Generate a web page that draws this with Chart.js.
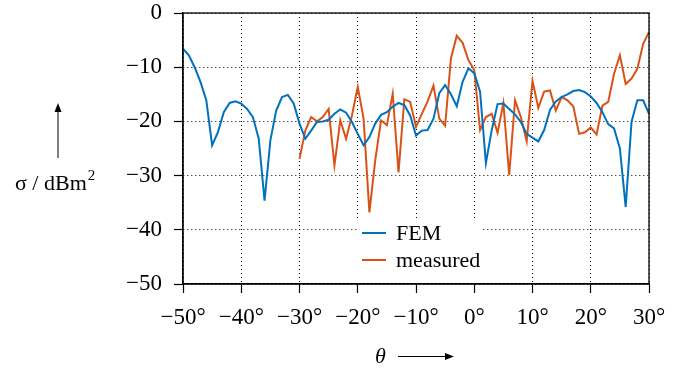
<!DOCTYPE html>
<html>
<head>
<meta charset="utf-8">
<script src="https://cdn.jsdelivr.net/npm/chart.js@4"></script>
<style>
  html, body { margin: 0; padding: 0; background: #fff; }
  #wrap { width: 675px; height: 368px; }
</style>
</head>
<body>
<div id="wrap"><canvas id="rcs"></canvas></div>
<script>
// angle (deg) and RCS (dBm^2)
const thetaFem = [
  -50, -49, -48, -47, -46, -45, -44, -43, -42, -41,
  -40, -39, -38, -37, -36, -35, -34, -33, -32, -31,
  -30, -29, -28, -27, -26, -25, -24, -23, -22, -21,
  -20, -19, -18, -17, -16, -15, -14, -13, -12, -11,
  -10, -9, -8, -7, -6, -5, -4, -3, -2, -1,
  0, 1, 2, 3, 4, 5, 6, 7, 8, 9,
  10, 11, 12, 13, 14, 15, 16, 17, 18, 19,
  20, 21, 22, 23, 24, 25, 26, 27, 28, 29, 30
];
const sigmaFem = [
  -6.6, -7.8, -10.0, -12.7, -16.1, -24.4, -22.0, -18.3, -16.6, -16.3,
  -16.7, -17.7, -19.2, -23.2, -34.6, -23.5, -18.0, -15.5, -15.1, -16.7,
  -20.4, -23.2, -21.7, -20.1, -20.0, -19.7, -18.6, -17.8, -18.4, -20.1,
  -22.3, -24.4, -22.9, -20.4, -18.8, -18.3, -17.3, -16.6, -17.0, -18.9,
  -22.6, -21.7, -21.6, -19.5, -14.8, -13.3, -15.0, -17.2, -12.7, -10.2,
  -11.1, -14.5, -27.7, -21.6, -16.8, -16.7, -17.7, -18.7, -20.1, -22.3,
  -23.0, -23.7, -21.6, -17.9, -16.3, -15.5, -15.0, -14.4, -14.2, -14.6,
  -15.4, -16.6, -18.3, -20.5, -21.3, -25.0, -35.8, -20.1, -16.1, -16.1, -18.6
];

const thetaMeas = [
  -30, -29, -28, -27, -26, -25, -24, -23, -22, -21,
  -20, -19, -18, -17, -16, -15, -14, -13, -12, -11,
  -10, -9, -8, -7, -6, -5, -4, -3, -2, -1,
  0, 1, 2, 3, 4, 5, 6, 7, 8, 9,
  10, 11, 12, 13, 14, 15, 16, 17, 18, 19,
  20, 21, 22, 23, 24, 25, 26, 27, 28, 29, 30
];
const sigmaMeas = [
  -26.9, -21.7, -19.2, -20.0, -19.2, -17.7, -28.1, -19.8, -23.2, -18.9,
  -13.6, -19.5, -36.8, -27.2, -19.8, -20.7, -14.9, -29.4, -15.9, -16.4,
  -21.0, -18.6, -16.3, -13.4, -19.5, -20.8, -8.4, -4.2, -5.5, -8.7,
  -10.5, -21.6, -19.2, -18.6, -22.1, -16.6, -29.9, -16.1, -19.2, -23.7,
  -12.5, -17.5, -14.5, -14.3, -18.0, -15.5, -16.1, -17.2, -22.3, -22.0,
  -21.1, -22.4, -17.1, -16.4, -11.2, -7.8, -13.1, -12.1, -10.3, -5.7, -3.5
];

const xTicks = [-50, -40, -30, -20, -10, 0, 10, 20, 30];
const yTicks = [-50, -40, -30, -20, -10, 0];

const FONT = '"Liberation Serif", "Times New Roman", serif';
const BLUE = '#0072bd';
const ORANGE = '#d95319';

function minus(v) {
    return v < 0 ? '\u2212' + Math.abs(v) : String(v);
}

function toPoints(xs, ys) {
    return xs.map((x, i) => ({ x: x, y: ys[i] }));
}

// frame, in-plot legend and the two axis titles with arrows
const decorations = {
    id: 'decorations',
    afterDraw(chart) {
        const ctx = chart.ctx;
        const a = chart.chartArea;
        ctx.save();

        // box round the plot
        ctx.strokeStyle = '#000';
        ctx.lineWidth = 1.3;
        ctx.strokeRect(a.left, a.top, a.right - a.left, a.bottom - a.top);

        // legend
        ctx.fillStyle = '#fff';
        ctx.fillRect(357, 219, 125, 64);
        ctx.font = '22px ' + FONT;
        ctx.textBaseline = 'middle';
        ctx.textAlign = 'left';
        chart.data.datasets.forEach((ds, i) => {
            const y = 233 + i * 27;
            ctx.strokeStyle = ds.borderColor;
            ctx.lineWidth = 2;
            ctx.beginPath();
            ctx.moveTo(362, y);
            ctx.lineTo(386, y);
            ctx.stroke();
            ctx.fillStyle = '#000';
            ctx.fillText(ds.label, 396, y + 1);
        });

        // y title: arrow up, then sigma / dBm^2
        ctx.strokeStyle = '#000';
        ctx.fillStyle = '#000';
        ctx.lineWidth = 1;
        ctx.beginPath();
        ctx.moveTo(58, 158);
        ctx.lineTo(58, 110);
        ctx.stroke();
        ctx.beginPath();
        ctx.moveTo(58, 103);
        ctx.lineTo(54.5, 112);
        ctx.lineTo(61.5, 112);
        ctx.closePath();
        ctx.fill();

        ctx.textBaseline = 'alphabetic';
        ctx.font = '22px ' + FONT;
        const main = '\u03c3 / dBm';
        ctx.fillText(main, 15, 190);
        const w = ctx.measureText(main).width;
        ctx.font = '15px ' + FONT;
        ctx.fillText('2', 15 + w + 1, 180);

        // x title: theta, then arrow right
        ctx.font = 'italic 22px ' + FONT;
        ctx.fillText('\u03b8', 375, 363);
        ctx.lineWidth = 1;
        ctx.beginPath();
        ctx.moveTo(398, 356.5);
        ctx.lineTo(446, 356.5);
        ctx.stroke();
        ctx.beginPath();
        ctx.moveTo(454, 356.5);
        ctx.lineTo(445, 353);
        ctx.lineTo(445, 360);
        ctx.closePath();
        ctx.fill();

        ctx.restore();
    }
};

const ctx = document.getElementById('rcs').getContext('2d');

new Chart(ctx, {
    type: 'line',
    data: {
        datasets: [{
            label: 'FEM',
            data: toPoints(thetaFem, sigmaFem),
            borderColor: BLUE,
            borderWidth: 2,
            pointRadius: 0,
            fill: false,
            tension: 0
        }, {
            label: 'measured',
            data: toPoints(thetaMeas, sigmaMeas),
            borderColor: ORANGE,
            borderWidth: 2,
            pointRadius: 0,
            fill: false,
            tension: 0
        }]
    },
    options: {
        responsive: true,
        maintainAspectRatio: false,
        animation: false,
        layout: {
            padding: { left: 0, right: 26, top: 13, bottom: 0 }
        },
        plugins: {
            legend: { display: false },
            tooltip: { enabled: false }
        },
        scales: {
            x: {
                type: 'linear',
                min: -50,
                max: 30,
                afterBuildTicks: function(scale) {
                    scale.ticks = xTicks.map(v => ({ value: v }));
                },
                afterFit: function(scale) {
                    scale.height = 84;
                    scale.paddingLeft = 0;
                    scale.paddingRight = 0;
                },
                grid: {
                    color: '#000',
                    lineWidth: 1,
                    tickLength: 9,
                    tickColor: '#000',
                    tickWidth: 1.2
                },
                border: {
                    color: '#000',
                    width: 1.3,
                    dash: [1, 3]
                },
                ticks: {
                    autoSkip: false,
                    maxRotation: 0,
                    padding: 11,
                    color: '#000',
                    font: { family: FONT, size: 23 },
                    callback: function(value) {
                        return minus(value) + '\u00b0';
                    }
                }
            },
            y: {
                type: 'linear',
                min: -50,
                max: 0,
                afterBuildTicks: function(scale) {
                    scale.ticks = yTicks.map(v => ({ value: v }));
                },
                afterFit: function(scale) {
                    scale.width = 183;
                    scale.paddingTop = 0;
                    scale.paddingBottom = 0;
                },
                grid: {
                    color: '#000',
                    lineWidth: 1,
                    tickLength: 9,
                    tickColor: '#000',
                    tickWidth: 1.2
                },
                border: {
                    color: '#000',
                    width: 1.3,
                    dash: [1, 3]
                },
                ticks: {
                    padding: 12,
                    color: '#000',
                    font: { family: FONT, size: 23 },
                    callback: function(value) {
                        return minus(value);
                    }
                }
            }
        }
    },
    plugins: [decorations]
});
</script>
</body>
</html>
